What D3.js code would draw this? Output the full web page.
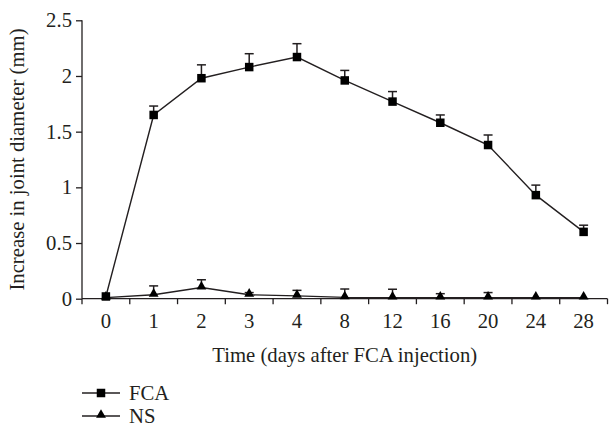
<!DOCTYPE html>
<html><head><meta charset="utf-8">
<script src="https://cdn.jsdelivr.net/npm/d3@7"></script>
<style>
html,body{margin:0;padding:0;background:#fff;}
svg{display:block;}
</style></head><body>
<svg id="c" width="609" height="427"></svg>
<script>
const days = ["0","1","2","3","4","8","12","16","20","24","28"];
const fca = [0.02,1.65,1.98,2.08,2.17,1.96,1.77,1.58,1.38,0.93,0.60];
const fcaErr = [0,0.08,0.12,0.12,0.12,0.09,0.09,0.07,0.09,0.09,0.06];
const ns = [0.01,0.035,0.10,0.035,0.025,0.012,0.01,0.01,0.01,0.01,0.01];
const nsErr = [0,0.08,0.07,0.02,0.05,0.075,0.075,0.035,0.045,0,0];
const yTicks = [0,0.5,1,1.5,2,2.5];
const yTickLabels = ["0","0.5","1","1.5","2","2.5"];
const legendNames = ["FCA","NS"];

const FONT = "'Liberation Serif','Times New Roman','DejaVu Serif',serif";
const svg = d3.select("#c");
const col = "#231f20";

const probe = svg.append("text").attr("font-family",FONT).attr("font-size",20).text("Time (days after FCA injection)");
const k = 265 / probe.node().getComputedTextLength();
probe.remove();
const fs = 20 * k;

const x = d3.scaleBand().domain(days).range([82,607.5]).padding(0);
const y = d3.scaleLinear().domain([0,2.5]).range([298.7,20.3]);
const cx = d => x(d) + x.bandwidth()/2;

const ya = svg.append("g").attr("transform","translate(82,0)")
  .call(d3.axisLeft(y).tickValues(yTicks).tickFormat((d,i)=>yTickLabels[i]).tickSize(6).tickPadding(4));
ya.attr("font-family",FONT);
ya.select(".domain").attr("stroke",col).attr("stroke-width",1.3).attr("d","M0,"+y(2.5)+"V"+y(0));
ya.selectAll(".tick line").attr("stroke",col).attr("stroke-width",1.3);
ya.selectAll(".tick text").attr("font-size",fs).attr("font-family",FONT).attr("fill",col);

const xa = svg.append("g").attr("transform","translate(0,"+y(0)+")")
  .call(d3.axisBottom(x).tickSize(0).tickPadding(15));
xa.attr("font-family",FONT);
xa.select(".domain").attr("stroke",col).attr("stroke-width",1.3).attr("d","M"+x.range()[0]+",0H"+x.range()[1]);
xa.selectAll(".tick text").attr("font-size",fs).attr("font-family",FONT).attr("fill",col);
const bounds = days.map(d=>x(d)).concat([x.range()[1]]);
xa.selectAll("line.b").data(bounds).join("line").attr("class","b")
  .attr("x1",d=>d).attr("x2",d=>d).attr("y1",0).attr("y2",5.5)
  .attr("stroke",col).attr("stroke-width",1.3);

svg.append("text").attr("x",(x.range()[0]+x.range()[1])/2).attr("y",362)
  .attr("text-anchor","middle").attr("font-family",FONT).attr("fill",col).attr("font-size",fs).text("Time (days after FCA injection)");
svg.append("text").attr("transform","translate(24,"+((y(0)+y(2.5))/2)+") rotate(-90)")
  .attr("text-anchor","middle").attr("font-family",FONT).attr("fill",col).attr("font-size",fs).text("Increase in joint diameter (mm)");

const line = d3.line().x((d,i)=>cx(days[i])).y(d=>y(d));
const tri = d3.symbol().type(d3.symbolTriangle).size(42);

function series(vals, errs, marker){
  const g = svg.append("g");
  vals.forEach((v,i)=>{
    if(errs[i]>0){
      const xx = cx(days[i]);
      g.append("line").attr("x1",xx).attr("x2",xx).attr("y1",y(v)).attr("y2",y(v+errs[i])).attr("stroke",col).attr("stroke-width",1.5);
      g.append("line").attr("x1",xx-4.5).attr("x2",xx+4.5).attr("y1",y(v+errs[i])).attr("y2",y(v+errs[i])).attr("stroke",col).attr("stroke-width",1.5);
    }
  });
  g.append("path").attr("d",line(vals)).attr("fill","none").attr("stroke",col).attr("stroke-width",1.4);
  if(marker==="sq"){
    g.selectAll("rect").data(vals).join("rect")
      .attr("x",(d,i)=>cx(days[i])-4.25).attr("y",d=>y(d)-4.25).attr("width",8.5).attr("height",8.5).attr("fill","#000");
  } else {
    g.selectAll("path.m").data(vals).join("path").attr("class","m")
      .attr("transform",(d,i)=>"translate("+cx(days[i])+","+(y(d)-1)+")").attr("d",tri).attr("fill","#000");
  }
}
series(ns, nsErr, "tri");
series(fca, fcaErr, "sq");

const leg = svg.append("g");
const ly = [393, 416];
legendNames.forEach((n,i)=>{
  leg.append("line").attr("x1",82).attr("x2",120).attr("y1",ly[i]).attr("y2",ly[i]).attr("stroke",col).attr("stroke-width",1.4);
  if(i===0) leg.append("rect").attr("x",96.75).attr("y",ly[i]-4.25).attr("width",8.5).attr("height",8.5).attr("fill","#000");
  else leg.append("path").attr("transform","translate(101,"+(ly[i]-1)+")").attr("d",tri).attr("fill","#000");
  leg.append("text").attr("x",129).attr("y",ly[i]+6.5).attr("font-family",FONT).attr("fill",col).attr("font-size",fs).text(n);
});
</script></body></html>
